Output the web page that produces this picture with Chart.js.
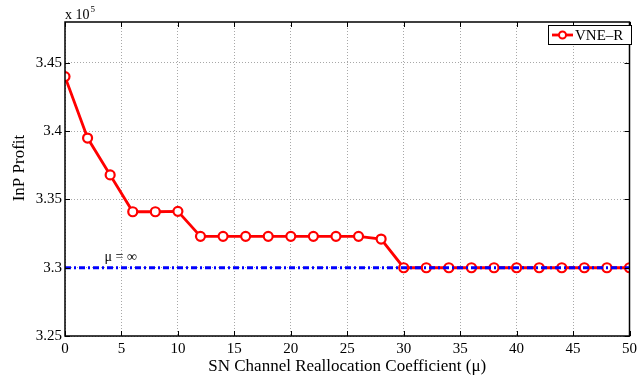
<!DOCTYPE html>
<html>
<head>
<meta charset="utf-8">
<script src="https://cdn.jsdelivr.net/npm/chart.js@4"></script>
<style>
  html, body { margin: 0; padding: 0; background: #ffffff; }
  #wrap { width: 641px; height: 381px; }
</style>
</head>
<body>
<div id="wrap"><canvas id="c" width="641" height="381"></canvas></div>
<script>
// Reallocation coefficient values (x axis)
const mu = [0, 2, 4, 6, 8, 10, 12, 14, 16, 18, 20, 22, 24, 26, 28, 30, 32, 34, 36, 38, 40, 42, 44, 46, 48, 50];
// InP profit for VNE-R, in units of 10^5
const profitVneR = [3.440, 3.395, 3.368, 3.341, 3.341, 3.3413, 3.323, 3.323, 3.323, 3.323, 3.323, 3.323, 3.323, 3.323, 3.321, 3.300, 3.300, 3.300, 3.300, 3.300, 3.300, 3.300, 3.300, 3.300, 3.300, 3.300];
// Profit when mu is unbounded (reference level)
const profitInfinite = 3.300;
const infiniteX = [0, 50];
const infiniteY = [profitInfinite, profitInfinite];
// Axis ticks
const xTicks = [0, 5, 10, 15, 20, 25, 30, 35, 40, 45, 50];
const yTicks = [3.25, 3.30, 3.35, 3.40, 3.45];
const yLabels = ['3.25', '3.3', '3.35', '3.4', '3.45'];

const SERIF = '"Liberation Serif", "Times New Roman", serif';

const decorations = {
  id: 'decorations',
  afterDraw(chart) {
    const ctx = chart.ctx;
    const a = chart.chartArea;
    const xs = chart.scales.x, ys = chart.scales.y;
    ctx.save();
    // inward tick marks on all four edges
    ctx.strokeStyle = '#000';
    ctx.lineWidth = 1;
    ctx.beginPath();
    xTicks.forEach(v => {
      const px = Math.round(xs.getPixelForValue(v)) + 0.5;
      ctx.moveTo(px, a.bottom); ctx.lineTo(px, a.bottom - 5);
      ctx.moveTo(px, a.top); ctx.lineTo(px, a.top + 5);
    });
    yTicks.forEach(v => {
      const py = Math.round(ys.getPixelForValue(v)) + 0.5;
      ctx.moveTo(a.left, py); ctx.lineTo(a.left + 5, py);
      ctx.moveTo(a.right, py); ctx.lineTo(a.right - 5, py);
    });
    ctx.stroke();
    // axes box
    ctx.lineWidth = 1.5;
    ctx.strokeRect(a.left, a.top, a.right - a.left, a.bottom - a.top);

    // exponent label
    ctx.fillStyle = '#000';
    ctx.textBaseline = 'alphabetic';
    ctx.textAlign = 'left';
    ctx.font = '14px ' + SERIF;
    ctx.fillText('x 10', a.left, 19);
    const w = ctx.measureText('x 10').width;
    ctx.font = '9px ' + SERIF;
    ctx.fillText('5', a.left + w + 1, 12);

    // mu = infinity annotation
    ctx.font = '14px ' + SERIF;
    ctx.fillText('\u03bc = \u221e', xs.getPixelForValue(3.5), ys.getPixelForValue(profitInfinite) - 7);

    // y axis title
    ctx.save();
    ctx.translate(20, 168);
    ctx.rotate(-Math.PI / 2);
    ctx.textAlign = 'center';
    ctx.textBaseline = 'middle';
    ctx.font = '17px ' + SERIF;
    ctx.fillText('InP Profit', 0, 0);
    ctx.restore();

    // legend
    const lx = 548, ly = 25, lw = 83, lh = 19;
    ctx.fillStyle = '#fff';
    ctx.fillRect(lx, ly, lw, lh);
    ctx.strokeStyle = '#000';
    ctx.lineWidth = 1;
    ctx.strokeRect(lx + 0.5, ly + 0.5, lw, lh);
    const cy = ly + lh / 2 + 0.5;
    ctx.strokeStyle = '#ff0000';
    ctx.lineWidth = 2.8;
    ctx.beginPath();
    ctx.moveTo(552, cy); ctx.lineTo(573, cy);
    ctx.stroke();
    ctx.beginPath();
    ctx.arc(562.5, cy, 3.5, 0, Math.PI * 2);
    ctx.fillStyle = '#fff';
    ctx.fill();
    ctx.lineWidth = 2;
    ctx.stroke();
    ctx.fillStyle = '#000';
    ctx.font = '15px ' + SERIF;
    ctx.textBaseline = 'middle';
    ctx.textAlign = 'left';
    ctx.fillText('VNE\u2013R', 575, cy + 1);
    ctx.restore();
  }
};

new Chart(document.getElementById('c'), {
  type: 'line',
  data: {
    datasets: [
      {
        label: '\u03bc = \u221e',
        data: infiniteX.map((x, i) => ({ x, y: infiniteY[i] })),
        borderColor: '#0000ff',
        borderWidth: 3,
        borderDash: [6, 3, 2, 3],
        pointRadius: 0,
        fill: false,
        order: 1
      },
      {
        label: 'VNE\u2013R',
        data: mu.map((x, i) => ({ x, y: profitVneR[i] })),
        borderColor: '#ff0000',
        borderWidth: 2.8,
        pointRadius: 4.5,
        pointBorderWidth: 2.2,
        pointBackgroundColor: '#ffffff',
        pointBorderColor: '#ff0000',
        fill: false,
        tension: 0,
        order: 2
      }
    ]
  },
  options: {
    responsive: false,
    animation: false,
    events: [],
    layout: { padding: { left: 0, right: 7, top: 22, bottom: 0 } },
    plugins: { legend: { display: false }, tooltip: { enabled: false } },
    scales: {
      x: {
        type: 'linear',
        min: 0,
        max: 50,
        afterBuildTicks(s) { s.ticks = xTicks.map(v => ({ value: v })); },
        afterFit(s) { s.height = 45; },
        border: { display: false, dash: [1, 2] },
        grid: { color: '#a8a8a8', lineWidth: 1, drawTicks: false },
        ticks: {
          color: '#000',
          font: { family: SERIF, size: 15 },
          padding: 4,
          maxRotation: 0,
          autoSkip: false,
          callback: v => String(v)
        },
        title: {
          display: true,
          text: 'SN Channel Reallocation Coefficient (\u03bc)',
          color: '#000',
          font: { family: SERIF, size: 17 },
          padding: { top: 0, bottom: 4 }
        }
      },
      y: {
        type: 'linear',
        min: 3.25,
        max: 3.48,
        afterBuildTicks(s) { s.ticks = yTicks.map(v => ({ value: v })); },
        afterFit(s) { s.width = 65; },
        border: { display: false, dash: [1, 2] },
        grid: { color: '#a8a8a8', lineWidth: 1, drawTicks: false },
        ticks: {
          color: '#000',
          font: { family: SERIF, size: 15 },
          padding: 3,
          autoSkip: false,
          callback: (v, i) => yLabels[i]
        }
      }
    }
  },
  plugins: [decorations]
});
</script>
</body>
</html>
